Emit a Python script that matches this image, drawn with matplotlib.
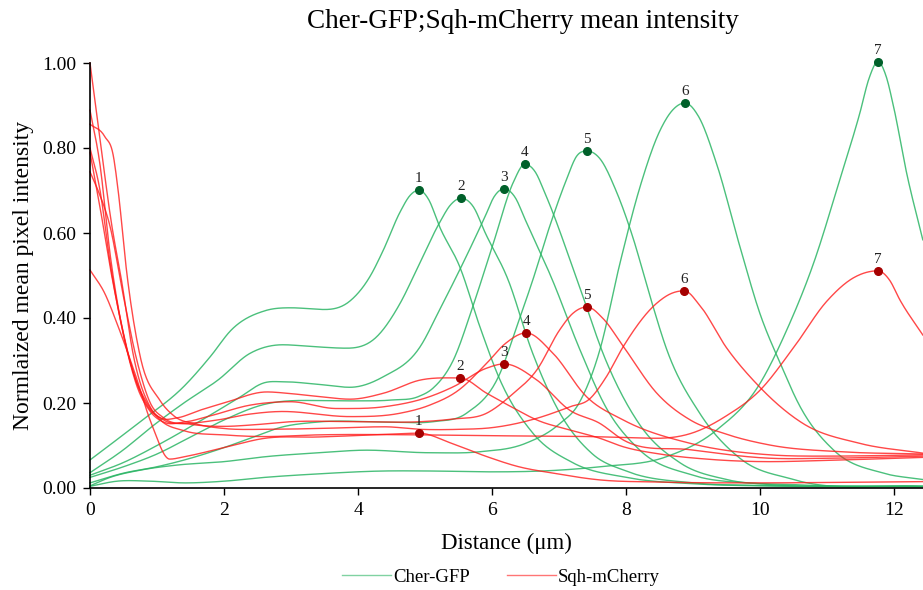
import numpy as np
import matplotlib
matplotlib.use("Agg")
import matplotlib.pyplot as plt
from matplotlib.lines import Line2D

plt.rcParams['font.family'] = ['Liberation Serif', 'DejaVu Serif']

# ---------------- data ----------------
gfp1_x = [0, 0.7, 1.42, 1.8, 2.11, 2.61, 3.0, 3.5, 3.88, 4.18, 4.37, 4.63, 4.78, 4.91, 5.05, 5.22, 5.52, 5.82, 6.12, 6.61, 7.2, 8.0, 9.0, 10.0, 11.0, 12.43]
gfp1_y = [0.066, 0.15, 0.242, 0.31, 0.372, 0.417, 0.424, 0.42, 0.44, 0.498, 0.557, 0.65, 0.689, 0.701, 0.68, 0.614, 0.52, 0.379, 0.254, 0.129, 0.06, 0.025, 0.01, 0.005, 0.004, 0.003]

gfp2_x = [0, 0.5, 0.92, 1.4, 1.91, 2.39, 2.88, 3.3, 3.83, 4.28, 4.63, 4.88, 5.22, 5.38, 5.54, 5.72, 5.9, 6.24, 6.6, 7.0, 7.5, 8.0, 9.0, 10.0, 12.43]
gfp2_y = [0.036, 0.09, 0.144, 0.2, 0.254, 0.317, 0.337, 0.333, 0.329, 0.356, 0.435, 0.515, 0.625, 0.666, 0.682, 0.662, 0.6, 0.49, 0.32, 0.18, 0.08, 0.04, 0.012, 0.006, 0.003]

gfp3_x = [0, 0.5, 1.0, 1.67, 2.2, 2.61, 2.88, 3.4, 3.88, 4.38, 4.93, 5.22, 5.57, 5.9, 6.03, 6.18, 6.34, 6.5, 6.9, 7.3, 7.7, 8.2, 9.0, 10.0, 12.43]
gfp3_y = [0.03, 0.06, 0.1, 0.16, 0.21, 0.248, 0.25, 0.244, 0.237, 0.262, 0.333, 0.42, 0.53, 0.64, 0.685, 0.704, 0.685, 0.63, 0.49, 0.33, 0.19, 0.09, 0.03, 0.01, 0.004]

gfp4_x = [0, 0.5, 1.0, 1.5, 2.0, 2.61, 3.2, 3.9, 4.5, 4.9, 5.12, 5.42, 5.72, 6.02, 6.32, 6.49, 6.64, 6.8, 7.27, 7.7, 8.2, 8.8, 9.5, 10.5, 12.43]
gfp4_y = [0.025, 0.05, 0.08, 0.12, 0.16, 0.197, 0.206, 0.205, 0.207, 0.215, 0.235, 0.3, 0.43, 0.576, 0.72, 0.762, 0.745, 0.69, 0.49, 0.3, 0.15, 0.06, 0.02, 0.008, 0.004]

gfp5_x = [0, 0.5, 1.0, 1.5, 2.0, 2.39, 2.88, 3.38, 4.5, 5.12, 5.62, 6.12, 6.37, 6.61, 6.87, 7.11, 7.26, 7.42, 7.61, 7.85, 8.1, 8.36, 8.61, 9.1, 9.7, 10.5, 12.43]
gfp5_y = [0.012, 0.035, 0.05, 0.07, 0.095, 0.117, 0.144, 0.155, 0.155, 0.156, 0.176, 0.27, 0.38, 0.49, 0.62, 0.725, 0.78, 0.793, 0.775, 0.7, 0.591, 0.45, 0.325, 0.176, 0.07, 0.02, 0.004]

gfp6_x = [0, 0.3, 0.75, 1.3, 2.0, 2.64, 3.43, 4.13, 5.07, 5.8, 6.5, 7.0, 7.3, 7.61, 7.91, 8.21, 8.51, 8.7, 8.88, 9.08, 9.35, 9.7, 10.0, 10.3, 10.6, 11.1, 11.84, 12.43]
gfp6_y = [0.005, 0.025, 0.042, 0.054, 0.062, 0.074, 0.083, 0.089, 0.083, 0.085, 0.105, 0.15, 0.2, 0.325, 0.529, 0.709, 0.842, 0.89, 0.906, 0.875, 0.764, 0.568, 0.41, 0.294, 0.191, 0.089, 0.035, 0.02]

gfp7_x = [0, 0.4, 0.9, 1.42, 2.0, 2.61, 3.38, 4.38, 5.07, 6.0, 7.0, 7.61, 8.61, 9.35, 10.0, 10.4, 10.8, 11.19, 11.49, 11.63, 11.76, 11.88, 11.99, 12.19, 12.43]
gfp7_y = [0.004, 0.016, 0.016, 0.012, 0.016, 0.025, 0.033, 0.04, 0.04, 0.038, 0.042, 0.05, 0.074, 0.136, 0.246, 0.372, 0.529, 0.725, 0.882, 0.965, 1.003, 0.97, 0.9, 0.74, 0.584]

mch1_x = [0, 0.22, 0.42, 0.67, 0.92, 1.19, 1.42, 2.0, 2.61, 3.4, 4.4, 4.91, 5.4, 5.92, 6.4, 6.91, 7.61, 8.5, 10.0, 11.0, 12.43]
mch1_y = [0.513, 0.458, 0.38, 0.27, 0.15, 0.068, 0.074, 0.095, 0.117, 0.12, 0.126, 0.129, 0.105, 0.074, 0.05, 0.035, 0.019, 0.014, 0.012, 0.013, 0.015]

mch2_x = [0, 0.15, 0.3, 0.45, 0.65, 0.85, 1.05, 1.3, 1.64, 2.0, 2.64, 3.0, 3.43, 3.88, 4.38, 4.93, 5.52, 5.92, 6.3, 6.67, 7.2, 7.61, 7.96, 8.5, 9.2, 10.15, 11.0, 12.43]
mch2_y = [0.889, 0.76, 0.55, 0.4, 0.27, 0.195, 0.165, 0.165, 0.183, 0.2, 0.226, 0.222, 0.215, 0.209, 0.223, 0.254, 0.259, 0.223, 0.19, 0.16, 0.135, 0.117, 0.097, 0.08, 0.068, 0.062, 0.065, 0.072]

mch3_x = [0, 0.15, 0.3, 0.5, 0.7, 0.9, 1.1, 1.4, 1.8, 2.39, 2.99, 3.68, 4.38, 5.07, 5.42, 5.92, 6.18, 6.67, 7.16, 7.61, 7.96, 8.96, 10.15, 11.0, 12.43]
mch3_y = [0.80, 0.70, 0.53, 0.36, 0.24, 0.18, 0.155, 0.155, 0.17, 0.195, 0.203, 0.187, 0.191, 0.215, 0.238, 0.282, 0.292, 0.254, 0.183, 0.152, 0.113, 0.09, 0.07, 0.07, 0.075]

mch4_x = [0, 0.17, 0.32, 0.47, 0.65, 0.9, 1.1, 1.4, 1.9, 2.39, 2.88, 3.88, 4.63, 5.07, 5.5, 5.9, 6.2, 6.51, 6.91, 7.41, 7.96, 8.96, 10.15, 11.0, 12.43]
mch4_y = [1.0, 0.795, 0.623, 0.489, 0.31, 0.19, 0.16, 0.152, 0.16, 0.174, 0.18, 0.168, 0.176, 0.195, 0.23, 0.29, 0.34, 0.365, 0.317, 0.215, 0.16, 0.105, 0.078, 0.075, 0.078]

mch5_x = [0, 0.12, 0.3, 0.5, 0.7, 0.9, 1.1, 1.5, 2.0, 2.39, 3.0, 4.0, 4.93, 5.4, 5.92, 6.3, 6.67, 7.01, 7.2, 7.42, 7.65, 7.96, 8.46, 8.96, 9.45, 10.15, 11.24, 12.43]
mch5_y = [0.744, 0.70, 0.615, 0.45, 0.30, 0.2, 0.165, 0.15, 0.145, 0.148, 0.156, 0.156, 0.156, 0.162, 0.176, 0.22, 0.278, 0.372, 0.41, 0.426, 0.4, 0.333, 0.223, 0.16, 0.129, 0.101, 0.085, 0.08]

mch6_x = [0, 0.22, 0.35, 0.42, 0.55, 0.75, 1.04, 1.25, 1.6, 2.0, 2.61, 3.4, 4.4, 4.93, 5.5, 6.0, 6.67, 7.16, 7.46, 7.7, 7.96, 8.46, 8.68, 8.87, 9.1, 9.5, 9.95, 10.64, 11.49, 12.43]
mch6_y = [0.856, 0.827, 0.78, 0.70, 0.505, 0.309, 0.207, 0.17, 0.15, 0.14, 0.138, 0.14, 0.144, 0.138, 0.138, 0.142, 0.164, 0.191, 0.21, 0.26, 0.333, 0.435, 0.458, 0.464, 0.43, 0.33, 0.245, 0.152, 0.105, 0.082]

mch7_x = [0, 0.15, 0.3, 0.45, 0.65, 0.85, 1.05, 1.4, 2.0, 2.61, 3.4, 4.93, 6.0, 7.46, 8.46, 9.0, 9.5, 10.0, 10.5, 11.0, 11.4, 11.76, 11.93, 12.09, 12.43]
mch7_y = [0.79, 0.66, 0.52, 0.4, 0.27, 0.2, 0.16, 0.135, 0.125, 0.121, 0.125, 0.125, 0.123, 0.121, 0.117, 0.13, 0.17, 0.23, 0.33, 0.44, 0.495, 0.511, 0.49, 0.442, 0.36]

peak_labels = ['1', '2', '3', '4', '5', '6', '7']
gfp_peak_x = [4.91, 5.54, 6.18, 6.49, 7.42, 8.88, 11.76]
gfp_peak_y = [0.701, 0.682, 0.704, 0.762, 0.793, 0.906, 1.003]
mch_peak_x = [4.91, 5.52, 6.18, 6.51, 7.42, 8.87, 11.76]
mch_peak_y = [0.129, 0.259, 0.292, 0.365, 0.426, 0.464, 0.511]

x_ticks = [0, 2, 4, 6, 8, 10, 12]
y_ticks = [0.0, 0.2, 0.4, 0.6, 0.8, 1.0]

gfp_curves = [(gfp1_x, gfp1_y), (gfp2_x, gfp2_y), (gfp3_x, gfp3_y), (gfp4_x, gfp4_y),
              (gfp5_x, gfp5_y), (gfp6_x, gfp6_y), (gfp7_x, gfp7_y)]
mch_curves = [(mch1_x, mch1_y), (mch2_x, mch2_y), (mch3_x, mch3_y), (mch4_x, mch4_y),
              (mch5_x, mch5_y), (mch6_x, mch6_y), (mch7_x, mch7_y)]


# smoothed-line rendering (cubic Hermite through the read points, like a spreadsheet "smoothed line")
def smooth(xp, yp, n=900):
    x = np.asarray(xp, float)
    y = np.asarray(yp, float)
    h = np.diff(x)
    d = np.diff(y) / h
    m = np.zeros_like(y)
    for k in range(1, len(x) - 1):
        if d[k - 1] * d[k] < 0:
            m[k] = 0.0
        else:
            m[k] = (d[k - 1] * h[k] + d[k] * h[k - 1]) / (h[k - 1] + h[k])
    m[0] = d[0]
    m[-1] = d[-1]
    xs = np.linspace(x[0], x[-1], n)
    idx = np.clip(np.searchsorted(x, xs) - 1, 0, len(x) - 2)
    t = (xs - x[idx]) / h[idx]
    h00 = 2 * t**3 - 3 * t**2 + 1
    h10 = t**3 - 2 * t**2 + t
    h01 = -2 * t**3 + 3 * t**2
    h11 = t**3 - t**2
    ys = h00 * y[idx] + h10 * h[idx] * m[idx] + h01 * y[idx + 1] + h11 * h[idx] * m[idx + 1]
    return xs, ys


GREEN = '#2bb565'
RED = '#ff1a1a'
DKGREEN = '#00602a'
DKRED = '#a50000'

fig = plt.figure(figsize=(9.23, 5.90), dpi=100)
ax = fig.add_axes([90 / 923, 102 / 590, 833 / 923, 425 / 590])

for cx, cy in gfp_curves:
    xs, ys = smooth(cx, cy)
    ax.plot(xs, ys, color=GREEN, lw=1.0, alpha=0.85, clip_on=False, zorder=2)
for cx, cy in mch_curves:
    xs, ys = smooth(cx, cy)
    ax.plot(xs, ys, color=RED, lw=1.0, alpha=0.8, clip_on=False, zorder=2)

ax.plot(gfp_peak_x, gfp_peak_y, 'o', color=DKGREEN, ms=5.5, clip_on=False, zorder=4)
ax.plot(mch_peak_x, mch_peak_y, 'o', color=DKRED, ms=5.5, clip_on=False, zorder=4)
for lab, px, py in zip(peak_labels, gfp_peak_x, gfp_peak_y):
    ax.annotate(lab, (px, py), xytext=(0, 3.5), textcoords='offset points',
                ha='center', va='bottom', fontsize=11, color='#222222', annotation_clip=False)
for lab, px, py in zip(peak_labels, mch_peak_x, mch_peak_y):
    ax.annotate(lab, (px, py), xytext=(0, 3.5), textcoords='offset points',
                ha='center', va='bottom', fontsize=11, color='#222222', annotation_clip=False)

ax.set_xlim(0, 833 / 67)
ax.set_ylim(0, 1.0)
ax.set_xticks(x_ticks)
ax.set_yticks(y_ticks)
ax.set_yticklabels([f'{v:.2f}' for v in y_ticks])
ax.tick_params(axis='both', direction='out', length=5, width=1.0, labelsize=14, color='black')
ax.tick_params(axis='x', pad=5)
ax.tick_params(axis='y', pad=5)
for s in ['top', 'right']:
    ax.spines[s].set_visible(False)
for s in ['left', 'bottom']:
    ax.spines[s].set_linewidth(1.2)

ax.set_xlabel('Distance (μm)', fontsize=16.5, labelpad=10)
ax.set_ylabel('Normlaized mean pixel intensity', fontsize=17, labelpad=6)
fig.text(523 / 923, 1 - 21 / 590, 'Cher-GFP;Sqh-mCherry mean intensity', ha='center', va='center', fontsize=19.5)

handles = [Line2D([], [], color=GREEN, lw=1.0, alpha=0.6),
           Line2D([], [], color=RED, lw=1.0, alpha=0.6)]
fig.legend(handles, ['Cher-GFP', 'Sqh-mCherry'], loc='center', bbox_to_anchor=(501 / 923, 13 / 590),
           ncol=2, frameon=False, fontsize=13.5, handlelength=2.6, handletextpad=0.1, columnspacing=2.0)

fig.savefig('out.png', dpi=100)
